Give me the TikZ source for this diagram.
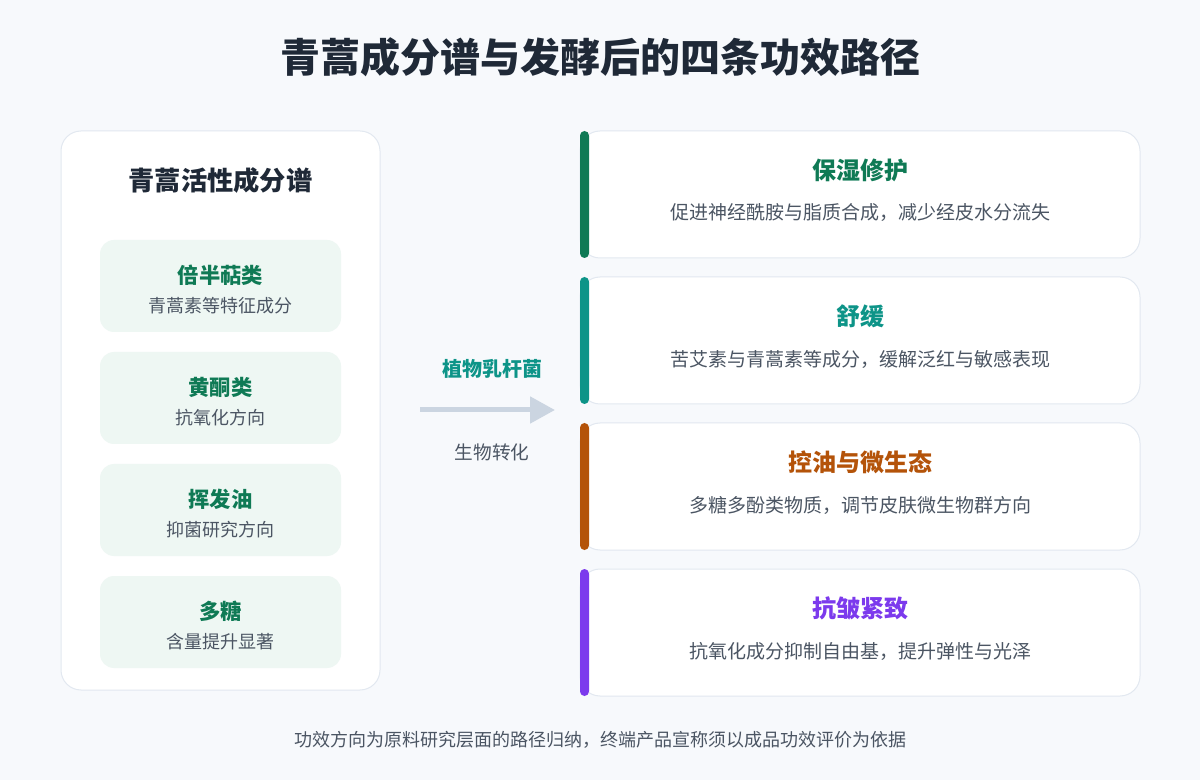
\documentclass[tikz,border=0pt]{standalone}
\usepackage{fontspec}
\setmainfont{Noto Sans CJK SC}
\usetikzlibrary{arrows.meta}
\definecolor{bg}{HTML}{F7F9FC}
\definecolor{ink}{HTML}{1F2937}
\definecolor{sub}{HTML}{4B5563}
\definecolor{edge}{HTML}{E2E8F0}
\definecolor{chipfill}{HTML}{EEF7F3}
\definecolor{cgreen}{HTML}{0F7A55}
\definecolor{cteal}{HTML}{0D9488}
\definecolor{corange}{HTML}{B45309}
\definecolor{cpurple}{HTML}{7C3AED}
\definecolor{arrowgray}{HTML}{CBD5E1}
\tikzset{
  panel/.style={draw=edge, line width=0.75pt, fill=white, rounded corners=15pt, inner sep=0pt},
  chip/.style={fill=chipfill, rounded corners=10.5pt, inner sep=0pt, minimum width={241*0.75pt}, minimum height={92*0.75pt}},
  chiptitle/.style={text=cgreen, font=\bfseries\fontsize{16}{19}\selectfont, inner sep=0pt},
  chipsub/.style={text=sub, font=\fontsize{13.5}{16}\selectfont, inner sep=0pt},
  card/.style={draw=edge, line width=0.75pt, fill=white, rounded corners=15pt, inner sep=0pt, minimum width={560*0.75pt}, minimum height={127*0.75pt}},
  accent/.style={rounded corners=3.4pt, inner sep=0pt, minimum width={9*0.75pt}, minimum height={127*0.75pt}},
  cardtitle/.style={font=\bfseries\fontsize{18}{22}\selectfont, inner sep=0pt},
  carddesc/.style={text=sub, font=\fontsize{14.25}{17}\selectfont, inner sep=0pt},
}
\begin{document}
\begin{tikzpicture}[x=0.75pt,y=-0.75pt]
\fill[bg] (0,0) rectangle (1200,780);
\useasboundingbox (0,0) rectangle (1200,780);

\node[text=ink, font=\bfseries\fontsize{30}{36}\selectfont, inner sep=0pt] (title) at (600,57) {青蒿成分谱与发酵后的四条功效路径};

% left panel
\node[panel, minimum width={319*0.75pt}, minimum height={559*0.75pt}] (panel) at (220.5,410.5) {};
\node[text=ink, font=\bfseries\fontsize{19.7}{23}\selectfont, inner sep=0pt] (panelhead) at (220.5,180) {青蒿活性成分谱};

\node[chip] (c1) at (220.5,286) {};
\node[chiptitle] (c1t) at (220.5,275) {倍半萜类};
\node[chipsub] (c1s) at (220.5,306) {青蒿素等特征成分};

\node[chip] (c2) at (220.5,398) {};
\node[chiptitle] (c2t) at (220.5,387) {黄酮类};
\node[chipsub] (c2s) at (220.5,418) {抗氧化方向};

\node[chip] (c3) at (220.5,510) {};
\node[chiptitle] (c3t) at (220.5,499) {挥发油};
\node[chipsub] (c3s) at (220.5,530) {抑菌研究方向};

\node[chip] (c4) at (220.5,622) {};
\node[chiptitle] (c4t) at (220.5,611) {多糖};
\node[chipsub] (c4s) at (220.5,642) {含量提升显著};

% arrow
\coordinate (arrA) at (420,410);
\coordinate (arrB) at (555,410);
\draw[arrowgray, line width=3.75pt, -{Triangle[length=18.75pt,width=19.5pt]}] (arrA) -- (arrB);
\node[text=cteal, font=\bfseries\fontsize{15}{18}\selectfont, inner sep=0pt] (microbe) at (492,369) {植物乳杆菌};
\node[text=sub, font=\fontsize{14}{17}\selectfont, inner sep=0pt] (bio) at (492,452) {生物转化};

% cards
\node[card] (k1) at (860,194.5) {};
\node[accent, fill=cgreen] (k1a) at (584.5,194.5) {};
\node[cardtitle, text=cgreen] (k1t) at (860,170) {保湿修护};
\node[carddesc] (k1d) at (860,213) {促进神经酰胺与脂质合成，减少经皮水分流失};

\node[card] (k2) at (860,340.5) {};
\node[accent, fill=cteal] (k2a) at (584.5,340.5) {};
\node[cardtitle, text=cteal] (k2t) at (860,316) {舒缓};
\node[carddesc] (k2d) at (860,359) {苦艾素与青蒿素等成分，缓解泛红与敏感表现};

\node[card] (k3) at (860,486.5) {};
\node[accent, fill=corange] (k3a) at (584.5,486.5) {};
\node[cardtitle, text=corange] (k3t) at (860,462) {控油与微生态};
\node[carddesc] (k3d) at (860,505) {多糖多酚类物质，调节皮肤微生物群方向};

\node[card] (k4) at (860,632.5) {};
\node[accent, fill=cpurple] (k4a) at (584.5,632.5) {};
\node[cardtitle, text=cpurple] (k4t) at (860,608) {抗皱紧致};
\node[carddesc] (k4d) at (860,651) {抗氧化成分抑制自由基，提升弹性与光泽};

\node[text=sub, font=\fontsize{13.5}{16}\selectfont, inner sep=0pt] (foot) at (600,740) {功效方向为原料研究层面的路径归纳，终端产品宣称须以成品功效评价为依据};
\end{tikzpicture}
\end{document}
